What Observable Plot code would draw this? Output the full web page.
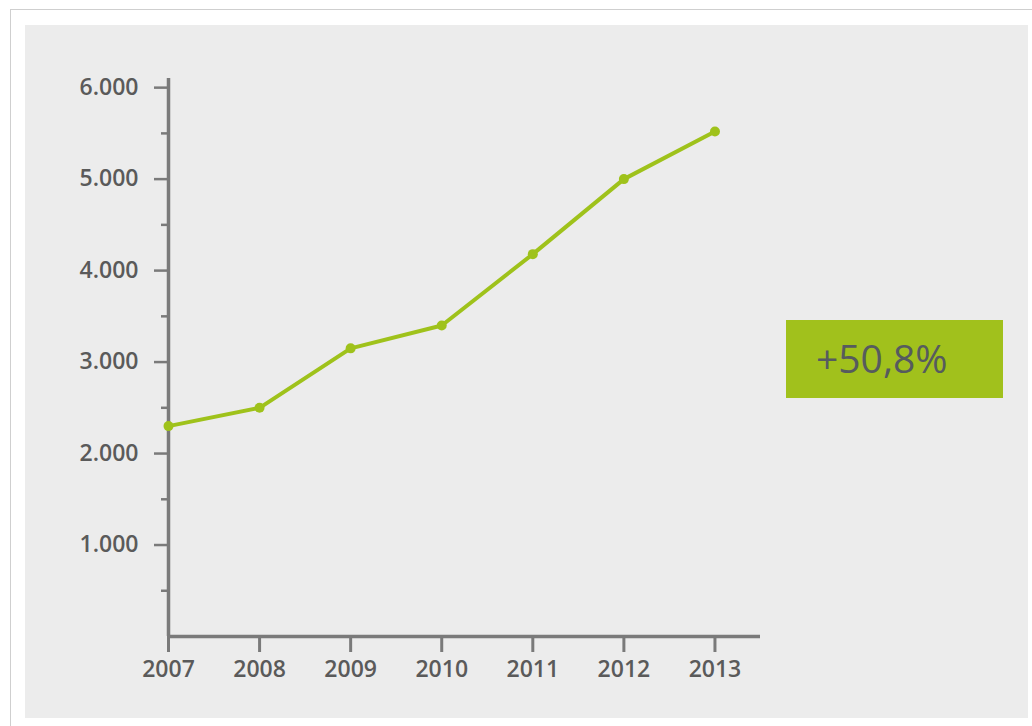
<!DOCTYPE html>
<html>
<head>
<meta charset="utf-8">
<script src="https://cdn.jsdelivr.net/npm/d3@7"></script>
<script src="https://cdn.jsdelivr.net/npm/@observablehq/plot@0.6"></script>
<style>
  html, body { margin: 0; padding: 0; background: #ffffff; }
  #frame { position: absolute; left: 10px; top: 9px; width: 1030px; height: 730px; border: 1px solid #cfcfcf; background: #fff; }
  #panel { position: absolute; left: 25px; top: 25px; width: 1003px; height: 693px; background: #ececec; }
  #chart { position: absolute; left: 0; top: 0; }
  #badge { position: absolute; left: 786px; top: 320px; width: 217px; height: 78px; background: #a1c11c;
           font-family: "Open Sans", sans-serif; font-size: 39px; color: #565b5e; line-height: 76px;
           box-sizing: border-box; padding-left: 30px; white-space: nowrap; }
</style>
</head>
<body>
<div id="frame"></div>
<div id="panel"></div>
<div id="chart"></div>
<div id="badge"></div>
<script>
const years = [2007, 2008, 2009, 2010, 2011, 2012, 2013];
const values = [2300, 2500, 3150, 3400, 4180, 5000, 5520];
const yTicks = [1000, 2000, 3000, 4000, 5000, 6000];
const yMinorTicks = [500, 1500, 2500, 3500, 4500, 5500];
const yTickLabels = ["1.000", "2.000", "3.000", "4.000", "5.000", "6.000"];
const badgeText = "+50,8%";

const data = years.map((y, i) => ({year: y, value: values[i]}));
const axisColor = "#7a7a7a";
const green = "#9fc21b";
const font = "'Open Sans', sans-serif";

const chart = Plot.plot({
  width: 1032,
  height: 726,
  marginLeft: 168,
  marginRight: 272,
  marginTop: 78,
  marginBottom: 90,
  style: {background: "transparent", fontFamily: font, fontSize: "24px", fontWeight: 600, color: "#555"},
  x: {domain: [2007, 2013.5]},
  y: {domain: [0, 6100]},
  marks: [
    Plot.axisY(yMinorTicks, {tickSize: 7, text: null, stroke: axisColor, strokeWidth: 2.5, label: null}),
    Plot.axisY(yTicks, {tickSize: 14, tickPadding: 16, stroke: axisColor, strokeWidth: 2.5,
      tickFormat: (d) => yTickLabels[yTicks.indexOf(d)], fill: "#5a5a5a", fontSize: 23, fontWeight: 600, label: null}),
    Plot.axisX(years, {tickSize: 16, tickPadding: 8, stroke: axisColor, strokeWidth: 3,
      tickFormat: (d) => String(d), fill: "#5a5a5a", fontSize: 23, fontWeight: 600, label: null}),
    Plot.ruleX([2007], {stroke: axisColor, strokeWidth: 3.5}),
    Plot.ruleY([0], {stroke: axisColor, strokeWidth: 3.5}),
    Plot.line(data, {x: "year", y: "value", stroke: green, strokeWidth: 4}),
    Plot.dot(data, {x: "year", y: "value", fill: green, r: 5})
  ]
});
document.getElementById("chart").appendChild(chart);
document.getElementById("badge").textContent = badgeText;
</script>
</body>
</html>
